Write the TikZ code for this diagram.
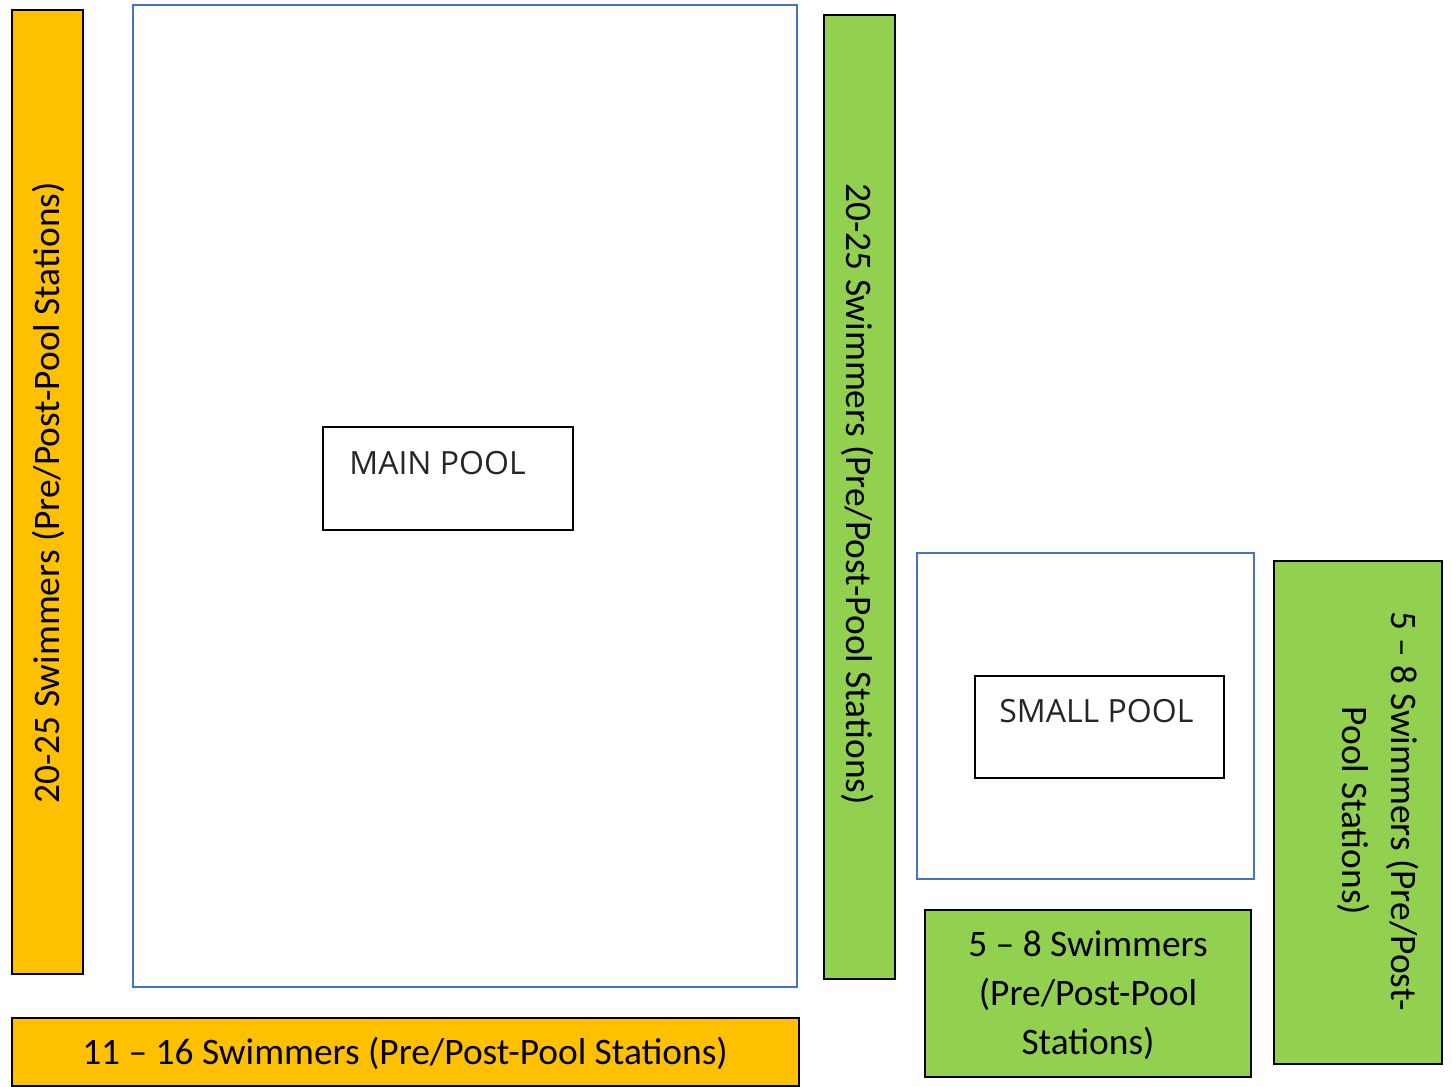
\documentclass[tikz,border=0pt]{standalone}
\usepackage{fontspec}
\setmainfont{Carlito}
\newfontfamily\poolfont{Open Sans}
\definecolor{orangebar}{HTML}{FFC000}
\definecolor{greenbar}{HTML}{92D050}
\definecolor{poolblue}{HTML}{4472C4}
\begin{document}
\begin{tikzpicture}[x=0.5pt,y=-0.5pt,
  station/.style={draw=black,line width=1pt},
  pool/.style={draw=poolblue,line width=0.9pt},
  plabel/.style={draw=black,line width=1pt,fill=white},
  stext/.style={font=\fontsize{18.7}{24.6}\selectfont,align=center,inner sep=0pt},
  ptext/.style={font=\poolfont\fontsize{16}{19}\selectfont,inner sep=0pt,anchor=base west,text=black!85}]
\useasboundingbox (0,0) rectangle (1452,1087);
\fill[white] (0,0) rectangle (1452,1087);
% pools
\draw[pool] (133,5) rectangle (797,987);
\draw[pool] (917,553) rectangle (1254,879);
% pool labels
\draw[plabel] (323,427) rectangle (573,530);
\node[ptext] (mainpool) at (349,474) {MAIN POOL};
\draw[plabel] (975,676) rectangle (1224,778);
\node[ptext] (smallpool) at (999,722) {SMALL POOL};
% stations
\draw[station,fill=orangebar] (12,10) rectangle (83,974);
\node[stext,rotate=90] (tleft) at (48,493) {20-25 Swimmers (Pre/Post-Pool Stations)};
\draw[station,fill=greenbar] (824,15) rectangle (895,979);
\node[stext,rotate=-90] (tmid) at (858,494) {20-25 Swimmers (Pre/Post-Pool Stations)};
\draw[station,fill=greenbar] (1274,561) rectangle (1442,1064);
\node[stext,rotate=-90] (tright) at (1378,811) {5 -- 8 Swimmers (Pre/Post-\\Pool Stations)};
\draw[station,fill=greenbar] (925,910) rectangle (1251,1077);
\node[stext] (tsmallbot) at (1088,995) {5 -- 8 Swimmers\\(Pre/Post-Pool\\Stations)};
\draw[station,fill=orangebar] (12,1018) rectangle (799,1086);
\node[stext] (tbottom) at (405,1053) {11 -- 16 Swimmers (Pre/Post-Pool Stations)};
\end{tikzpicture}
\end{document}
